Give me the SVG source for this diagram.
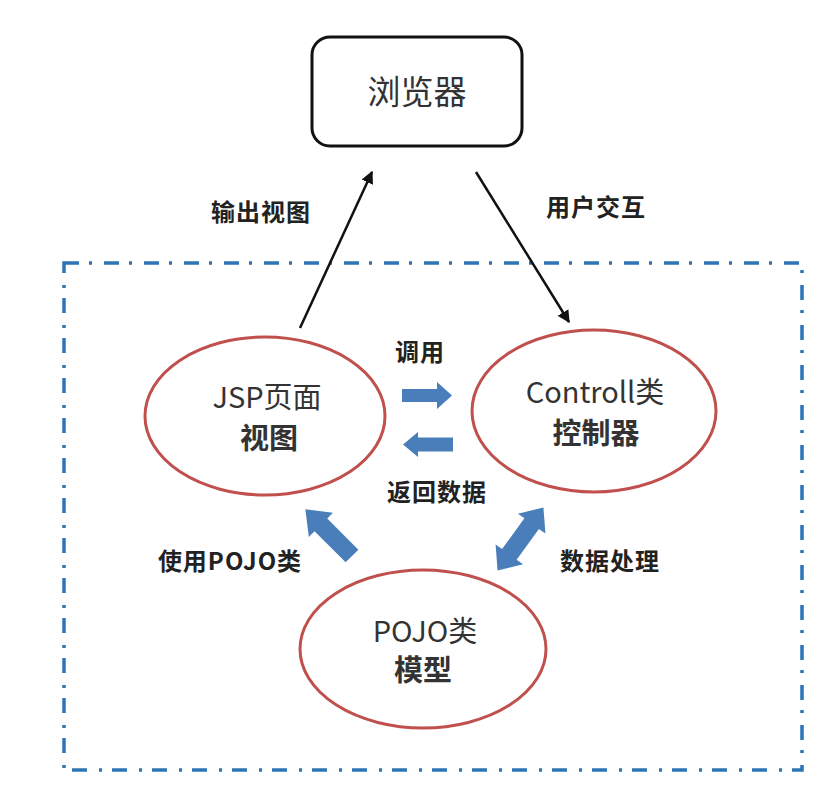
<svg xmlns="http://www.w3.org/2000/svg" width="840" height="797" viewBox="0 0 840 797">
<defs>
<style>
.ell{fill:none;stroke:#c0504d;stroke-width:3}
.blk{fill:#4a7ebb}
.lbl{font-family:"Noto Sans CJK SC","Liberation Sans",sans-serif;font-size:24px;font-weight:bold;fill:#222;text-anchor:middle;letter-spacing:1px}
.nt{font-family:"Noto Sans CJK SC","Liberation Sans",sans-serif;font-size:29px;fill:#333;text-anchor:middle}
.ln{stroke:#111;stroke-width:2.5;fill:none;marker-end:url(#ah)}
</style>
<marker id="ah" viewBox="0 0 10 10" refX="9" refY="5" markerWidth="5" markerHeight="5" orient="auto" markerUnits="strokeWidth">
<path d="M0,0 L10,5 L0,10 z" fill="#111"/>
</marker>
</defs>
<rect width="840" height="797" fill="#fff"/>
<rect x="64" y="263" width="738" height="507" fill="none" stroke="#2e75b6" stroke-width="3.5" stroke-dasharray="15 10 3 12"/>
<g id="browser">
<rect x="312" y="37" width="210" height="109" rx="18" fill="#fff" stroke="#111" stroke-width="3"/>
<text x="417" y="104" class="nt" style="font-size:33px" fill="#555">浏览器</text>
</g>
<g id="jsp">
<ellipse cx="265" cy="416" rx="120" ry="79" class="ell"/>
<text x="267" y="408" class="nt">JSP页面</text>
<text x="269" y="449" class="nt" font-weight="bold">视图</text>
</g>
<g id="controller">
<ellipse cx="594" cy="411" rx="122" ry="81" class="ell"/>
<text x="595" y="403" class="nt">Controll类</text>
<text x="596" y="444" class="nt" font-weight="bold">控制器</text>
</g>
<g id="pojo">
<ellipse cx="423" cy="649" rx="123" ry="79" class="ell"/>
<text x="425" y="642" class="nt">POJO类</text>
<text x="423" y="681" class="nt" font-weight="bold">模型</text>
</g>
<g id="connectors">
<line x1="300" y1="328" x2="372" y2="172" class="ln"/>
<line x1="476" y1="172" x2="569" y2="322" class="ln"/>
<polygon class="blk" points="402,389 437,389 437,382 452,395.5 437,409 437,402 402,402"/>
<polygon class="blk" points="403,444.5 418,432 418,437.5 453,437.5 453,451.5 418,451.5 418,457"/>
<polygon class="blk" transform="translate(352,556) rotate(-135)" points="0,-9 44,-9 44,-17 66,0 44,17 44,9 0,9"/>
<polygon class="blk" transform="translate(520.5,539) rotate(-54)" points="-39,0 -19,-17 -19,-9 19,-9 19,-17 39,0 19,17 19,9 -19,9 -19,17"/>
<text x="261" y="221" class="lbl">输出视图</text>
<text x="596" y="216" class="lbl">用户交互</text>
<text x="420" y="361" class="lbl">调用</text>
<text x="437" y="501" class="lbl">返回数据</text>
<text x="230" y="570" class="lbl">使用POJO类</text>
<text x="610" y="570" class="lbl">数据处理</text>
</g>
</svg>
